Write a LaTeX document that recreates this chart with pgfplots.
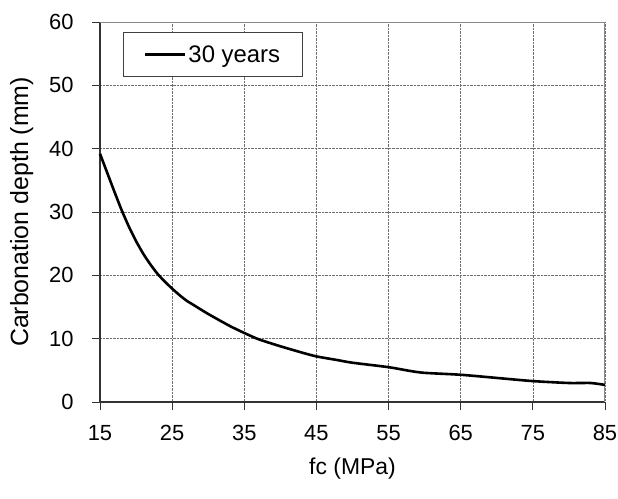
\documentclass[border=0pt]{standalone}
\usepackage{fontspec}
\setmainfont{Liberation Sans}
\usepackage{pgfplots}
\pgfplotsset{compat=1.18}
\definecolor{gridgray}{HTML}{6E6E6E}
\definecolor{framegray}{HTML}{8A8A8A}

\begin{document}
\begin{tikzpicture}
\useasboundingbox (-100bp,-97bp) rectangle (518bp,402bp);
\begin{axis}[
  at={(0,0)},anchor=south west,
  scale only axis,width=505bp,height=380bp,
  xmin=15,xmax=85,ymin=0,ymax=60,
  xtick={15,25,...,85},ytick={0,10,...,60},
  grid=major,
  major grid style={densely dotted,gridgray,line width=0.7bp},
  axis x line*=bottom,axis y line*=left,
  axis line style={black!80,line width=1.3bp,-},
  tick align=outside,major tick length=8bp,
  tick style={black!80,line width=0.9bp},
  /pgf/number format/assume math mode=true,
  ticklabel style={font=\fontsize{22}{26}\selectfont},
  xticklabel style={yshift=-12bp},
  yticklabel style={xshift=-15bp},
  xlabel={fc (MPa)},
  ylabel={Carbonation depth (mm)},
  xlabel style={at={(axis description cs:0.5,-0.174)},anchor=center,font=\fontsize{23}{27}\selectfont},
  ylabel style={at={(axis description cs:-0.155,0.5)},anchor=center,rotate=0,font=\fontsize{25}{29}\selectfont},
  legend style={at={(axis description cs:0.046,0.973)},anchor=north west,
    draw=black!75,line width=0.9bp,inner xsep=20bp,inner ysep=11bp,
    font=\fontsize{24}{28}\selectfont,
    nodes={inner xsep=2bp}},
  legend image code/.code={\draw[#1,line width=2.8bp] (0bp,0bp) -- (40bp,0bp);},
  clip=false,
]
\draw[framegray,line width=1bp] (rel axis cs:0,1) -- (rel axis cs:1,1) -- (rel axis cs:1,0);
\addplot[black,line width=2.6bp,smooth,tension=0.4] coordinates {
  (15,39.2) (16,36.2) (17,33.2) (18,30.3) (19,27.7) (20,25.4)
  (21,23.4) (22,21.7) (23,20.2) (24,19.0) (25,17.9) (26,16.9)
  (27,16.0) (28,15.3) (30,13.9) (33,12.0) (35,10.9) (37,9.9)
  (40,8.8) (43,7.8) (45,7.2) (48,6.6) (50,6.2) (55,5.5)
  (58,4.9) (60,4.6) (65,4.3) (70,3.8) (75,3.3) (80,3.0)
  (83,3.0) (85,2.7)
};
\addlegendentry{30 years}
\end{axis}
\end{tikzpicture}
\end{document}
